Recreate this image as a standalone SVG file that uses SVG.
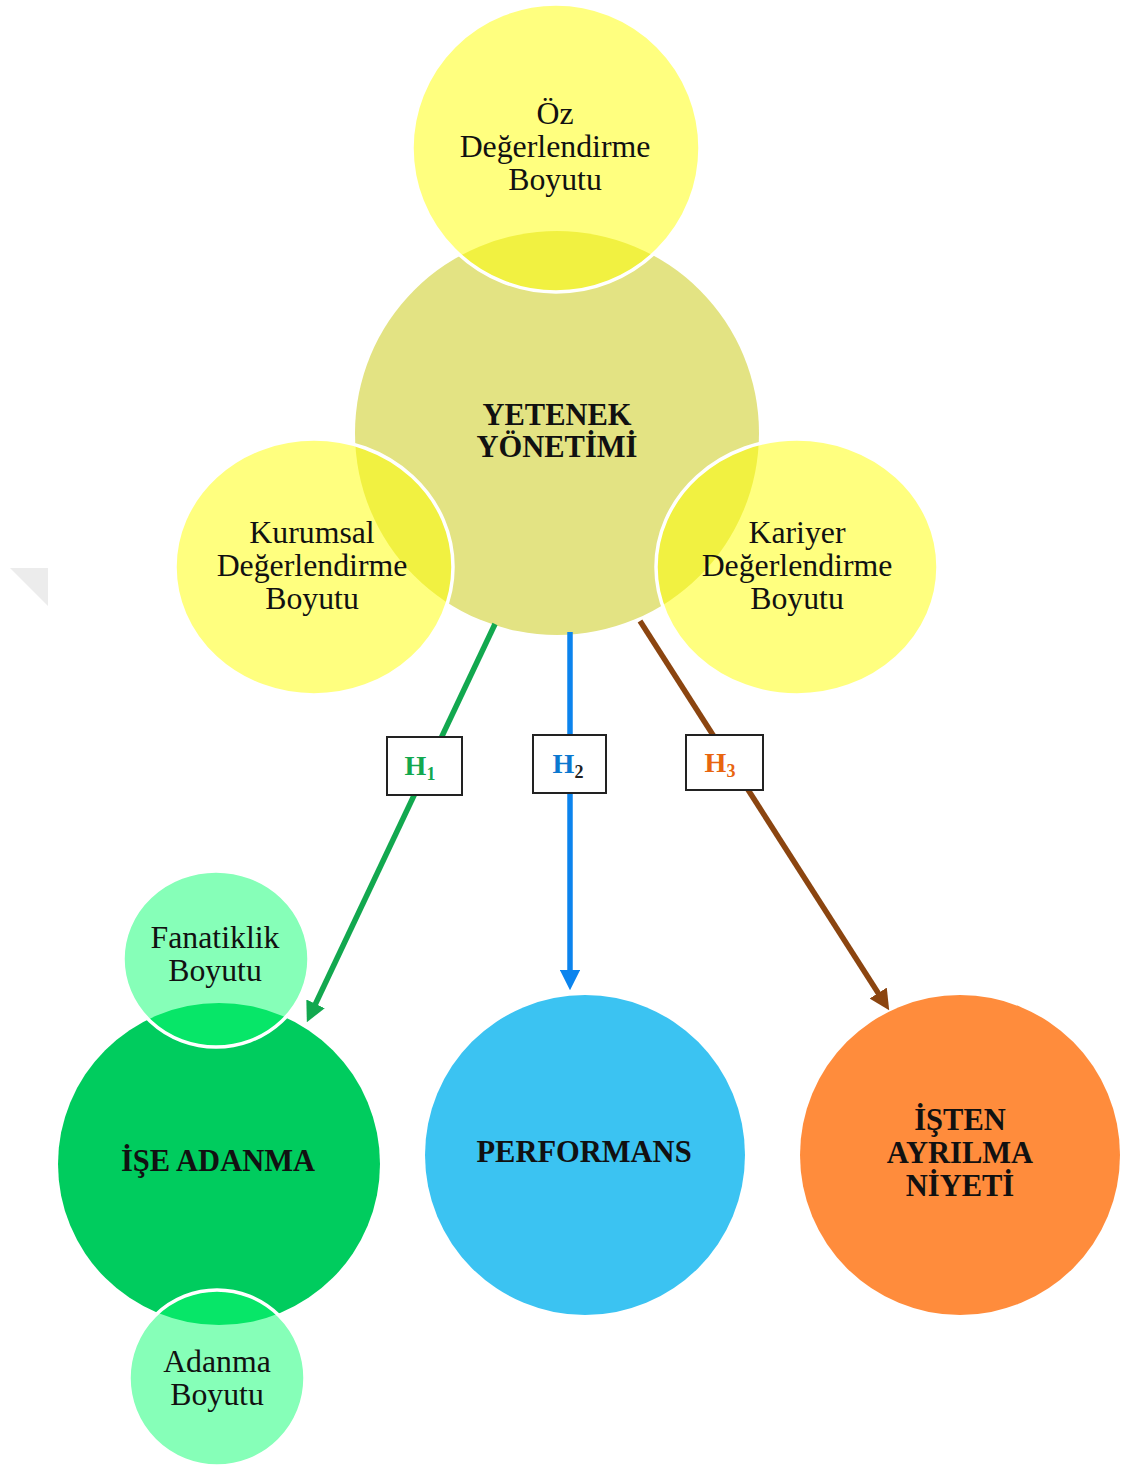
<svg xmlns="http://www.w3.org/2000/svg" width="1128" height="1468" viewBox="0 0 1128 1468">
<style>
.t{font-family:"Liberation Serif","Times New Roman",serif;font-size:31.8px;fill:#111;text-anchor:middle}
.b{font-family:"Liberation Serif","Times New Roman",serif;font-size:30.5px;font-weight:bold;fill:#111;text-anchor:middle}
.sy{fill:#FFFF00;fill-opacity:0.5;stroke:#fff;stroke-width:3.5}
.sg{fill:#0DFF71;fill-opacity:0.5;stroke:#fff;stroke-width:3.5}
.ln{fill:none;stroke-width:5.5}
.hb{fill:#fff;stroke:#222;stroke-width:2}
.h{font-family:"Liberation Serif","Times New Roman",serif;font-size:28px;font-weight:bold;text-anchor:middle}
.sub{font-size:18px}
</style>
<defs>
<marker id="ag" viewBox="0 0 10 10" refX="2" refY="5" markerWidth="3.7" markerHeight="3.7" orient="auto"><path d="M0,0 L10,5 L0,10 z" fill="#12A84F"/></marker>
<marker id="ab" viewBox="0 0 10 10" refX="2" refY="5" markerWidth="3.7" markerHeight="3.7" orient="auto"><path d="M0,0 L10,5 L0,10 z" fill="#0B84EE"/></marker>
<marker id="ar" viewBox="0 0 10 10" refX="2" refY="5" markerWidth="3.7" markerHeight="3.7" orient="auto"><path d="M0,0 L10,5 L0,10 z" fill="#8B4510"/></marker>
</defs>
<rect width="1128" height="1468" fill="#fff"/>
<polygon points="10,568 48,568 48,606" fill="#ececec"/>

<g id="yetenek">
<circle cx="557" cy="433" r="202" fill="#E3E383"/>
<text class="b" x="557" y="425">YETENEK</text>
<text class="b" x="557" y="457">YÖNETİMİ</text>
</g>
<g id="oz">
<circle class="sy" cx="556" cy="148" r="144"/>
<text class="t" x="555" y="124">Öz</text>
<text class="t" x="555" y="157">Değerlendirme</text>
<text class="t" x="555" y="190">Boyutu</text>
</g>
<g id="kurumsal">
<ellipse class="sy" cx="314" cy="567" rx="139" ry="128"/>
<text class="t" x="312" y="543">Kurumsal</text>
<text class="t" x="312" y="576">Değerlendirme</text>
<text class="t" x="312" y="609">Boyutu</text>
</g>
<g id="kariyer">
<ellipse class="sy" cx="797" cy="567" rx="141" ry="128"/>
<text class="t" x="797" y="543">Kariyer</text>
<text class="t" x="797" y="576">Değerlendirme</text>
<text class="t" x="797" y="609">Boyutu</text>
</g>

<g id="ise-adanma">
<circle cx="219" cy="1164" r="161" fill="#00CC5E"/>
<text class="b" x="218" y="1171">İŞE ADANMA</text>
</g>
<g id="fanatiklik">
<ellipse class="sg" cx="216" cy="959" rx="93" ry="88"/>
<text class="t" x="215" y="948">Fanatiklik</text>
<text class="t" x="215" y="981">Boyutu</text>
</g>
<g id="adanma">
<circle class="sg" cx="217" cy="1378" r="88"/>
<text class="t" x="217" y="1372">Adanma</text>
<text class="t" x="217" y="1405">Boyutu</text>
</g>
<g id="performans">
<circle cx="585" cy="1155" r="160" fill="#3BC3F2"/>
<text class="b" x="584" y="1162">PERFORMANS</text>
</g>
<g id="isten">
<circle cx="960" cy="1155" r="160" fill="#FF8C3C"/>
<text class="b" x="960" y="1130">İŞTEN</text>
<text class="b" x="960" y="1163">AYRILMA</text>
<text class="b" x="960" y="1196">NİYETİ</text>
</g>

<g id="connectors">
<line class="ln" x1="495" y1="624" x2="313.8" y2="1007.5" stroke="#12A84F" marker-end="url(#ag)"/>
<line class="ln" x1="570" y1="632" x2="570" y2="974" stroke="#0B84EE" marker-end="url(#ab)"/>
<line class="ln" x1="640" y1="621" x2="880.4" y2="996.5" stroke="#8B4510" marker-end="url(#ar)"/>
<g id="h1"><rect class="hb" x="387" y="737" width="75" height="58"/><text class="h" x="420" y="775" fill="#12A84F">H<tspan class="sub" dy="5">1</tspan></text></g>
<g id="h2"><rect class="hb" x="533" y="735" width="73" height="58"/><text class="h" x="568" y="773" fill="#0B78D0">H<tspan class="sub" dy="5" fill="#222">2</tspan></text></g>
<g id="h3"><rect class="hb" x="686" y="735" width="77" height="55"/><text class="h" x="720" y="772" fill="#E8650F">H<tspan class="sub" dy="5">3</tspan></text></g>
</g>
</svg>
